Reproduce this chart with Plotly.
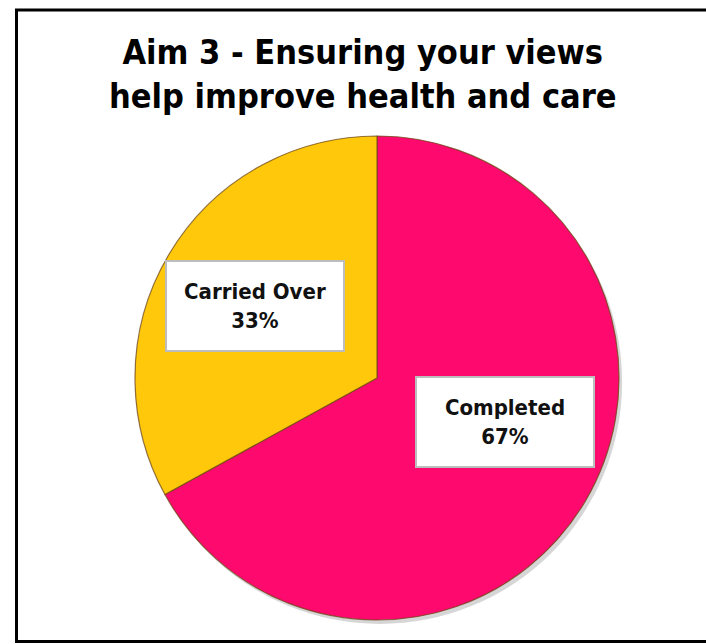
import plotly.graph_objects as go

# Progress against Aim 3
categories = ["Completed", "Carried Over"]
shares = [67, 33]
slice_colors = ["#FE0A6E", "#FFC80A"]
title_lines = ["Aim 3 - Ensuring your views", "help improve health and care"]

W, H = 706, 644
FONT = "DejaVu Sans Condensed, DejaVu Sans, sans-serif"

fig = go.Figure()

# Soft drop shadow under the pie
fig.add_trace(go.Pie(
    values=[sum(shares)],
    sort=False,
    marker=dict(colors=["rgba(0,0,0,0.16)"], line=dict(width=0)),
    textinfo="none",
    hoverinfo="skip",
    showlegend=False,
    domain=dict(x=[138 / W, 622 / W], y=[1 - 625 / H, 1 - 139 / H]),
))

fig.add_trace(go.Pie(
    labels=categories,
    values=shares,
    sort=False,
    direction="clockwise",
    rotation=0,
    marker=dict(colors=slice_colors, line=dict(color="rgba(110,70,20,0.75)", width=1.2)),
    textinfo="none",
    hoverinfo="label+percent",
    showlegend=False,
    domain=dict(x=[135 / W, 619 / W], y=[1 - 621 / H, 1 - 135 / H]),
))

# Boxed data labels, one per slice
label_boxes = {
    "Completed": dict(x=505 / W, y=1 - 422 / H),
    "Carried Over": dict(x=255 / W, y=1 - 306 / H),
}
for name, val in zip(categories, shares):
    pos = label_boxes[name]
    fig.add_annotation(
        x=pos["x"], y=pos["y"], xref="paper", yref="paper",
        xanchor="center", yanchor="middle",
        text=f"<b>{name}<br>{val}%</b>",
        showarrow=False,
        font=dict(family=FONT, size=22, color="#111111"),
        bgcolor="white",
        bordercolor="#BDBDBD",
        borderwidth=2,
        borderpad=0,
        width=176,
        height=88,
        align="center",
        valign="middle",
    )

# Chart title
fig.add_annotation(
    x=363 / W, y=1 - 74 / H, xref="paper", yref="paper",
    xanchor="center", yanchor="middle",
    text="<b>" + "<br>".join(title_lines) + "</b>",
    showarrow=False,
    font=dict(family=FONT, size=34, color="black"),
    align="center",
)

# Outer frame
fig.add_shape(
    type="rect", xref="paper", yref="paper",
    x0=16.5 / W, x1=1.05, y0=1 - 641.5 / H, y1=1 - 10 / H,
    line=dict(color="black", width=3),
    fillcolor="rgba(0,0,0,0)",
)

fig.update_layout(
    width=W, height=H,
    margin=dict(l=0, r=0, t=0, b=0),
    paper_bgcolor="white",
    plot_bgcolor="white",
)

fig.write_html("out.html")
